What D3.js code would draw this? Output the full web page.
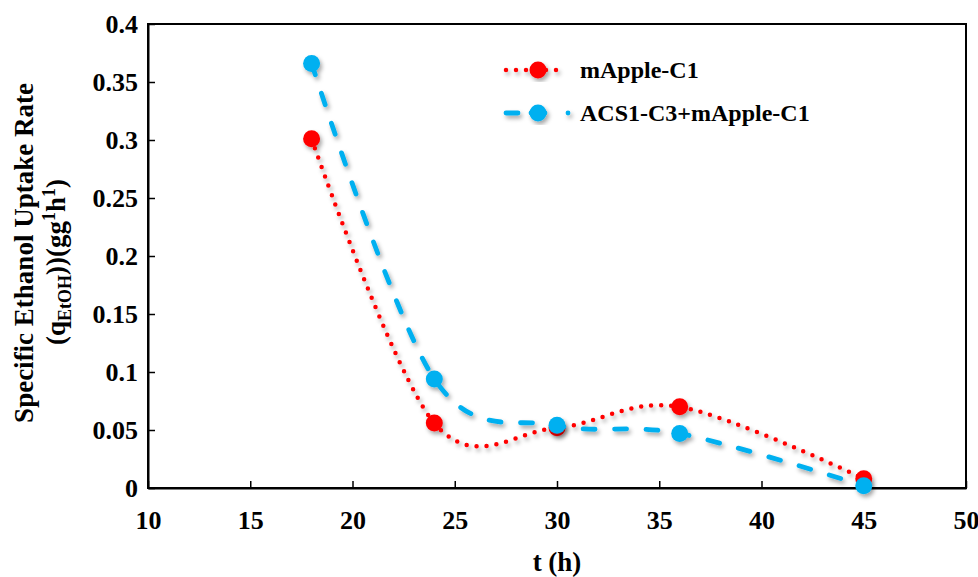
<!DOCTYPE html>
<html>
<head>
<meta charset="utf-8">
<script src="https://cdn.jsdelivr.net/npm/d3@7"></script>
<style>
  html, body { margin: 0; padding: 0; background: #fff; }
  text { font-family: "Liberation Serif", "Times New Roman", serif; font-weight: bold; fill: #000; }
</style>
</head>
<body>
<svg id="chart" width="978" height="577"></svg>
<script>
// Sampling times (h)
const hours = [18, 24, 30, 36, 45];
// Specific ethanol uptake rate per strain
const mAppleC1 = [0.301, 0.056, 0.052, 0.070, 0.008];
const acs1C3mAppleC1 = [0.366, 0.094, 0.054, 0.047, 0.002];
// Axis ticks
const xTicks = [10, 15, 20, 25, 30, 35, 40, 45, 50];
const yTicks = [0, 0.05, 0.1, 0.15, 0.2, 0.25, 0.3, 0.35, 0.4];
const seriesNames = ["mApple-C1", "ACS1-C3+mApple-C1"];

const svg = d3.select("#chart");
const margin = { left: 148, right: 12, top: 24, bottom: 89 };
const W = 978, H = 577;

const x = d3.scaleLinear().domain([10, 50]).range([margin.left, W - margin.right]);
const y = d3.scaleLinear().domain([0, 0.4]).range([H - margin.bottom, margin.top]);

// soft drop shadow for the series
const defs = svg.append("defs");
const f = defs.append("filter").attr("id", "shadow")
  .attr("x", "-20%").attr("y", "-20%").attr("width", "140%").attr("height", "140%");
f.append("feDropShadow").attr("dx", 2).attr("dy", 3).attr("stdDeviation", 2)
  .attr("flood-color", "#000").attr("flood-opacity", 0.35);

// plot frame
svg.append("rect")
  .attr("x", x(10)).attr("y", y(0.4))
  .attr("width", x(50) - x(10)).attr("height", y(0) - y(0.4))
  .attr("fill", "none").attr("stroke", "#000").attr("stroke-width", 2);

// x axis (ticks pointing inward)
const xAxis = d3.axisBottom(x).tickValues(xTicks).tickSizeInner(-7).tickSizeOuter(0)
  .tickFormat(d3.format("d"));
const gx = svg.append("g").attr("transform", `translate(0,${y(0)})`).call(xAxis);
gx.select(".domain").attr("stroke", "#000").attr("stroke-width", 2);
gx.selectAll(".tick line").attr("stroke", "#000").attr("stroke-width", 1.5);
gx.selectAll(".tick text").style("font-size", "26px").attr("y", 41).attr("dy", 0);

// y axis (ticks pointing inward)
const yAxis = d3.axisLeft(y).tickValues(yTicks).tickSizeInner(-7).tickSizeOuter(0).tickPadding(10)
  .tickFormat(d => d === 0 ? "0" : String(+d.toFixed(2)));
const gy = svg.append("g").attr("transform", `translate(${x(10)},0)`).call(yAxis);
gy.select(".domain").attr("stroke", "#000").attr("stroke-width", 2);
gy.selectAll(".tick line").attr("stroke", "#000").attr("stroke-width", 1.5);
gy.selectAll(".tick text").style("font-size", "26px");

// axis titles
svg.append("text").attr("x", (x(10) + x(50)) / 2).attr("y", 571)
  .attr("text-anchor", "middle").style("font-size", "27px").text("t (h)");

svg.append("text").attr("transform", "translate(33,253) rotate(-90)")
  .attr("text-anchor", "middle").style("font-size", "27px")
  .text("Specific Ethanol Uptake Rate");
const l2 = svg.append("text").attr("transform", "translate(65,262) rotate(-90)")
  .attr("text-anchor", "middle").style("font-size", "27px");
l2.append("tspan").text("(q");
l2.append("tspan").attr("dy", 6).style("font-size", "18px").text("EtOH");
l2.append("tspan").attr("dy", -6).text("))(gg");
l2.append("tspan").attr("dy", -10).style("font-size", "18px").text("1");
l2.append("tspan").attr("dy", 10).text("h");
l2.append("tspan").attr("dy", -10).style("font-size", "18px").text("1");
l2.append("tspan").attr("dy", 10).text(")");

// series
const series = [
  { name: seriesNames[0], values: mAppleC1, color: "#FF0000", dash: "0,10", width: 4.5 },
  { name: seriesNames[1], values: acs1C3mAppleC1, color: "#00B0F0", dash: "12,19.5", width: 4.8 }
];

const line = d3.line().x(d => x(d[0])).y(d => y(d[1])).curve(d3.curveCardinal.tension(0));

series.forEach(s => {
  const pts = hours.map((h, i) => [h, s.values[i]]);
  const g = svg.append("g").attr("filter", "url(#shadow)");
  g.append("path").datum(pts).attr("d", line)
    .attr("fill", "none").attr("stroke", s.color).attr("stroke-width", s.width)
    .attr("stroke-dasharray", s.dash).attr("stroke-linecap", "round");
  g.selectAll("circle").data(pts).join("circle")
    .attr("cx", d => x(d[0])).attr("cy", d => y(d[1])).attr("r", 8.5)
    .attr("fill", s.color);
});

// legend
const legendY = [70, 113];
// red: dotted sample through the marker
{
  const s = series[0];
  const g = svg.append("g").attr("filter", "url(#shadow)");
  g.append("path").attr("d", `M506,${legendY[0]}H566`)
    .attr("fill", "none").attr("stroke", s.color).attr("stroke-width", s.width)
    .attr("stroke-dasharray", s.dash).attr("stroke-linecap", "round");
  g.append("circle").attr("cx", 538).attr("cy", legendY[0]).attr("r", 8.5).attr("fill", s.color);
}
// blue: one dash, the marker, and a trailing dot
{
  const s = series[1];
  const g = svg.append("g").attr("filter", "url(#shadow)");
  g.append("path").attr("d", `M506,${legendY[1]}H518`)
    .attr("fill", "none").attr("stroke", s.color).attr("stroke-width", s.width)
    .attr("stroke-linecap", "round");
  g.append("path").attr("d", `M531,${legendY[1]}H545`)
    .attr("fill", "none").attr("stroke", s.color).attr("stroke-width", s.width)
    .attr("stroke-linecap", "round");
  g.append("circle").attr("cx", 538).attr("cy", legendY[1]).attr("r", 8.5).attr("fill", s.color);
  g.append("circle").attr("cx", 568).attr("cy", legendY[1]).attr("r", s.width / 2).attr("fill", s.color);
}
series.forEach((s, i) => {
  svg.append("text").attr("x", 580).attr("y", legendY[i]).attr("dy", "0.35em")
    .style("font-size", "24px").text(s.name);
});
</script>
</body>
</html>
